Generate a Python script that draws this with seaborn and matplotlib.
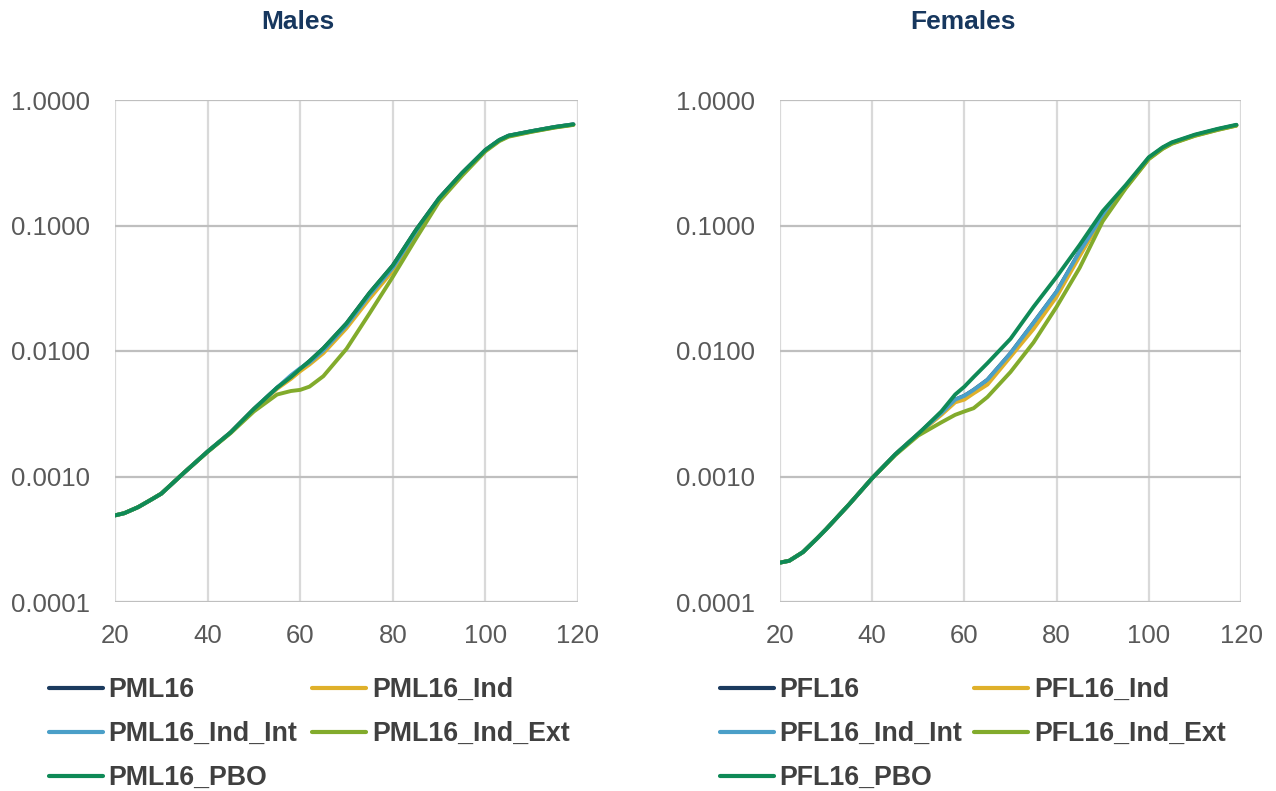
import numpy as np
import pandas as pd
import matplotlib
matplotlib.use("Agg")
import matplotlib.pyplot as plt
import seaborn as sns
from matplotlib.ticker import FixedLocator, FixedFormatter, NullLocator

ages = [20, 22, 25, 28, 30, 35, 40, 45, 50, 55, 58, 60, 62, 65, 70, 75, 80,
        85, 90, 95, 100, 103, 105, 110, 115, 119]

# Males
pml16 = [0.00049, 0.00051, 0.00057, 0.00066, 0.00073, 0.00108, 0.00158, 0.00225, 0.00345, 0.0051,
         0.0062, 0.0072, 0.0083, 0.0105, 0.0166, 0.0291, 0.048, 0.092, 0.165, 0.263,
         0.40, 0.48, 0.52, 0.565, 0.61, 0.64]
pml16_ind = [0.00049, 0.00051, 0.00057, 0.00066, 0.00073, 0.00108, 0.00158, 0.00225, 0.00345, 0.0050,
             0.0060, 0.0069, 0.0078, 0.0096, 0.0152, 0.0262, 0.0435, 0.086, 0.160, 0.258,
             0.395, 0.475, 0.515, 0.56, 0.605, 0.635]
pml16_ind_int = [0.00049, 0.00051, 0.00057, 0.00066, 0.00073, 0.00108, 0.00158, 0.00225, 0.00345, 0.0051,
                 0.0064, 0.0073, 0.0081, 0.0101, 0.0160, 0.0280, 0.046, 0.089, 0.162, 0.26,
                 0.398, 0.478, 0.518, 0.563, 0.608, 0.638]
pml16_ind_ext = [0.00049, 0.00051, 0.00057, 0.00066, 0.00073, 0.00108, 0.00157, 0.00222, 0.0033, 0.0045,
                 0.0048, 0.0049, 0.0052, 0.0063, 0.0104, 0.0200, 0.039, 0.0785, 0.155, 0.25,
                 0.39, 0.47, 0.51, 0.558, 0.603, 0.633]
pml16_pbo = [0.00049, 0.00051, 0.00057, 0.00066, 0.00073, 0.00108, 0.00158, 0.00225, 0.00345, 0.0051,
             0.0062, 0.0072, 0.0083, 0.0105, 0.0166, 0.0291, 0.048, 0.092, 0.165, 0.263,
             0.40, 0.48, 0.52, 0.565, 0.61, 0.64]

# Females
pfl16 = [0.000206, 0.000213, 0.00025, 0.00032, 0.00038, 0.0006, 0.00097, 0.0015, 0.00219, 0.0032,
         0.0041, 0.0044, 0.0049, 0.0059, 0.0096, 0.0168, 0.0297, 0.062, 0.12, 0.205,
         0.345, 0.415, 0.455, 0.525, 0.585, 0.63]
pfl16_ind = [0.000206, 0.000213, 0.00025, 0.00032, 0.00038, 0.0006, 0.00097, 0.0015, 0.00219, 0.0031,
             0.0039, 0.0041, 0.0046, 0.0054, 0.0090, 0.0150, 0.0271, 0.057, 0.117, 0.2,
             0.34, 0.41, 0.45, 0.52, 0.58, 0.625]
pfl16_ind_int = [0.000206, 0.000213, 0.00025, 0.00032, 0.00038, 0.0006, 0.00097, 0.0015, 0.00219, 0.0032,
                 0.0041, 0.0044, 0.0049, 0.0059, 0.0096, 0.0168, 0.0297, 0.062, 0.12, 0.205,
                 0.345, 0.415, 0.455, 0.525, 0.585, 0.63]
pfl16_ind_ext = [0.000206, 0.000213, 0.00025, 0.00032, 0.00038, 0.0006, 0.00097, 0.00148, 0.00212, 0.0027,
                 0.0031, 0.0033, 0.0035, 0.0043, 0.0068, 0.0117, 0.0225, 0.046, 0.108, 0.198,
                 0.338, 0.408, 0.448, 0.518, 0.578, 0.625]
pfl16_pbo = [0.000206, 0.000213, 0.00025, 0.00032, 0.00038, 0.0006, 0.00097, 0.0015, 0.00219, 0.0033,
             0.0045, 0.0052, 0.0062, 0.0080, 0.0125, 0.0225, 0.039, 0.070, 0.13, 0.21,
             0.35, 0.42, 0.46, 0.53, 0.59, 0.635]

male_names = ["PML16", "PML16_Ind", "PML16_Ind_Int", "PML16_Ind_Ext", "PML16_PBO"]
female_names = ["PFL16", "PFL16_Ind", "PFL16_Ind_Int", "PFL16_Ind_Ext", "PFL16_PBO"]
male_series = [pml16, pml16_ind, pml16_ind_int, pml16_ind_ext, pml16_pbo]
female_series = [pfl16, pfl16_ind, pfl16_ind_int, pfl16_ind_ext, pfl16_pbo]

x_ticks = [20, 40, 60, 80, 100, 120]
y_ticks = [0.0001, 0.001, 0.01, 0.1, 1.0]
y_tick_labels = ["0.0001", "0.0010", "0.0100", "0.1000", "1.0000"]

colors = ["#1b3a5e", "#dfb02a", "#4a9fc8", "#82ab2c", "#0f8a57"]

sns.set_theme(style="white")
plt.rcParams["font.family"] = ["Liberation Sans", "DejaVu Sans"]

fig = plt.figure(figsize=(12.76, 7.91), dpi=100)
W, H = 1276, 791

def make_df(names, series):
    rows = []
    for n, s in zip(names, series):
        for a, v in zip(ages, s):
            rows.append((n, a, v))
    return pd.DataFrame(rows, columns=["series", "age", "q"])

panels = [
    ("Males", male_names, male_series, 115, 578, 298, 49, 0.56),
    ("Females", female_names, female_series, 780, 1241, 963, 720, 0.45),
]

for title, names, series, x0, x1, tx, lx, cs in panels:
    ax = fig.add_axes([x0 / W, 1 - 602 / H, (x1 - x0) / W, (602 - 100) / H])
    df = make_df(names, series)
    sns.lineplot(data=df, x="age", y="q", hue="series", hue_order=names,
                 palette=colors, linewidth=2.8, ax=ax, legend=False, sort=False)
    for ln in ax.get_lines():
        ln.set_solid_joinstyle("round")
        ln.set_solid_capstyle("round")
    ax.set_yscale("log")
    ax.set_xlim(20, 120)
    ax.set_ylim(0.0001, 1.0)
    ax.yaxis.set_major_locator(FixedLocator(y_ticks))
    ax.yaxis.set_major_formatter(FixedFormatter(y_tick_labels))
    ax.yaxis.set_minor_locator(NullLocator())
    ax.xaxis.set_major_locator(FixedLocator(x_ticks))
    ax.set_xlabel("")
    ax.set_ylabel("")
    for sp in ax.spines.values():
        sp.set_visible(False)
    ax.grid(False)
    for xv in x_ticks:
        ax.axvline(xv, color="#d9d9d9", linewidth=1.6, zorder=0)
    for yv in y_ticks:
        ax.axhline(yv, color="#bfbfbf", linewidth=1.6, zorder=0)
    ax.tick_params(axis="both", length=0, labelsize=18.5, labelcolor="#595959")
    ax.tick_params(axis="x", pad=16)
    ax.tick_params(axis="y", pad=18)

    fig.text(tx / W, 1 - 22 / H, title, ha="center", va="center",
             fontsize=19, fontweight="bold", color="#17375e")

    lines = ax.get_lines()[:5]
    order = [0, 2, 4, 1, 3]
    leg = ax.legend([lines[i] for i in order], [names[i] for i in order],
                    loc="upper left", bbox_to_anchor=(lx / W, 1 - 677 / H),
                    bbox_transform=fig.transFigure, ncol=2, frameon=False,
                    handlelength=2.0, handletextpad=0.22, columnspacing=cs,
                    labelspacing=0.67, borderaxespad=0, borderpad=0,
                    prop={"size": 19.3, "weight": "bold"})
    for t in leg.get_texts():
        t.set_color("#404040")
    for h in leg.legend_handles:
        h.set_linewidth(3)

fig.savefig("out.png", dpi=100)
